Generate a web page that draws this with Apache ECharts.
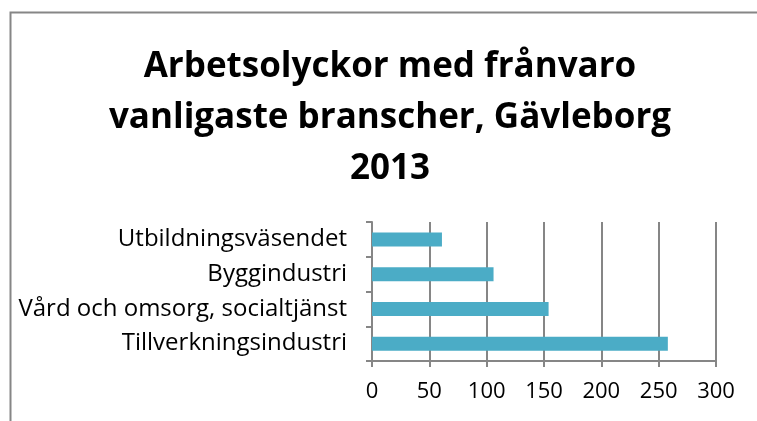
<!DOCTYPE html>
<html lang="sv">
<head>
    <meta charset="UTF-8">
    <title>Arbetsolyckor med frånvaro</title>
    <script src="https://cdn.jsdelivr.net/npm/echarts@6/dist/echarts.min.js"></script>
    <style>
        html, body { margin: 0; padding: 0; background: #fff; }
        #chart { width: 757px; height: 421px; }
    </style>
</head>
<body>
    <div id="chart"></div>
    <script>
        // kategorier nerifrån och upp, som i diagrammet
        const branscher = ['Tillverkningsindustri', 'Vård och omsorg, socialtjänst', 'Byggindustri', 'Utbildningsväsendet'];
        const antal = [258, 154, 106, 61];
        const titel = 'Arbetsolyckor med frånvaro\nvanligaste branscher, Gävleborg\n2013';

        const grey = '#868686';
        const font = '"Open Sans", "Noto Sans", sans-serif';

        const chart = echarts.init(document.getElementById('chart'));
        chart.setOption({
            animation: false,
            graphic: [{
                type: 'rect',
                shape: { x: 10.5, y: 12.5, width: 800, height: 500 },
                style: { fill: 'none', stroke: grey, lineWidth: 2 },
                z: -1
            }],
            title: {
                text: titel,
                left: 385,
                textAlign: 'center',
                top: 37,
                textStyle: {
                    fontFamily: font,
                    fontWeight: 'bold',
                    fontSize: 35,
                    lineHeight: 51,
                    color: '#000'
                }
            },
            grid: {
                left: 372,
                right: 41,
                top: 222,
                bottom: 60,
                containLabel: false
            },
            xAxis: {
                type: 'value',
                min: 0,
                max: 300,
                interval: 50,
                axisLine: { show: true, lineStyle: { color: grey, width: 2 } },
                axisTick: { show: true, length: 6, lineStyle: { color: grey, width: 2 } },
                splitLine: { show: true, lineStyle: { color: grey, width: 2 } },
                axisLabel: {
                    margin: 20,
                    color: '#000',
                    fontFamily: font,
                    fontSize: 22
                }
            },
            yAxis: {
                type: 'category',
                data: branscher,
                axisLine: { show: true, lineStyle: { color: grey, width: 2 } },
                axisTick: { show: true, length: 6, lineStyle: { color: grey, width: 2 } },
                axisLabel: {
                    margin: 25,
                    color: '#000',
                    fontFamily: font,
                    fontSize: 24
                }
            },
            series: [{
                type: 'bar',
                data: antal,
                barWidth: 14,
                itemStyle: { color: '#4BACC6' }
            }]
        });
    </script>
</body>
</html>
